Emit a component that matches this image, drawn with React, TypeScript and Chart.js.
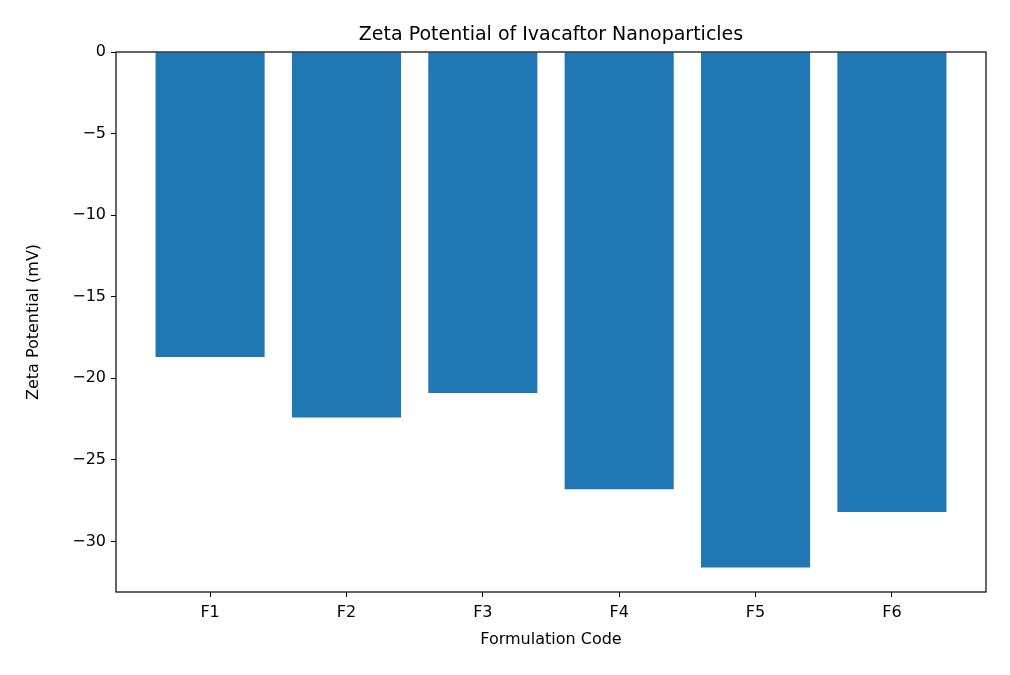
import React, { useEffect, useRef } from "react";
import { Chart, registerables } from "chart.js";
Chart.register(...registerables);

const categories = ["F1", "F2", "F3", "F4", "F5", "F6"];
const zetaValues = [-18.7, -22.4, -20.9, -26.8, -31.6, -28.2];
const yTicks = [0, -5, -10, -15, -20, -25, -30];

const FONT = "'DejaVu Sans', sans-serif";

const frame = {
  id: "frame",
  afterDraw(chart: any) {
    const { ctx, chartArea: a } = chart;
    ctx.save();
    ctx.strokeStyle = "#000";
    ctx.lineWidth = 1.2;
    ctx.strokeRect(a.left, a.top, a.right - a.left, a.bottom - a.top);
    ctx.fillStyle = "#000";
    ctx.font = `19px ${FONT}`;
    ctx.textAlign = "center";
    ctx.textBaseline = "alphabetic";
    ctx.fillText("Zeta Potential of Ivacaftor Nanoparticles", (a.left + a.right) / 2, 40);
    ctx.restore();
  },
};

export default function App() {
  const ref = useRef<HTMLCanvasElement>(null);
  useEffect(() => {
    document.body.style.margin = "0";
    const chart = new Chart(ref.current!, {
      type: "bar",
      data: {
        datasets: [
          {
            data: zetaValues.map((y, i) => ({ x: i, y })),
            backgroundColor: "#1f77b4",
            categoryPercentage: 1,
            barPercentage: 0.8,
          },
        ],
      },
      options: {
        animation: false,
        responsive: false,
        layout: { padding: { top: 52, right: 24, left: 24, bottom: 22 } },
        plugins: { legend: { display: false }, tooltip: { enabled: false } },
        scales: {
          x: {
            type: "linear",
            offset: false,
            min: -0.69,
            max: 5.69,
            afterBuildTicks: (s: any) => {
              s.ticks = categories.map((_, i) => ({ value: i }));
            },
            afterFit: (s: any) => {
              s.height = 61;
            },
            ticks: {
              callback: (v: any) => categories[v as number] ?? "",
              color: "#000",
              font: { family: FONT, size: 16 },
              padding: 6,
            },
            grid: { offset: false, drawOnChartArea: false, tickLength: 5, color: "#000" },
            border: { display: false },
            title: {
              display: true,
              text: "Formulation Code",
              color: "#000",
              font: { family: FONT, size: 16 },
              padding: { top: 2 },
            },
          },
          y: {
            min: -33.1,
            max: 0,
            afterBuildTicks: (s: any) => {
              s.ticks = yTicks.map((v) => ({ value: v }));
            },
            afterFit: (s: any) => {
              s.width = 92;
            },
            ticks: {
              callback: (v: any) => String(v).replace("-", "\u2212"),
              color: "#000",
              font: { family: FONT, size: 16 },
              padding: 5,
            },
            grid: { drawOnChartArea: false, tickLength: 5, color: "#000" },
            border: { display: false },
            title: {
              display: true,
              text: "Zeta Potential (mV)",
              color: "#000",
              font: { family: FONT, size: 16 },
              padding: 0,
            },
          },
        },
      },
      plugins: [frame],
    });
    return () => chart.destroy();
  }, []);
  return (
    <div style={{ width: 1010, height: 675, background: "#fff" }}>
      <canvas ref={ref} width={1010} height={675} />
    </div>
  );
}
